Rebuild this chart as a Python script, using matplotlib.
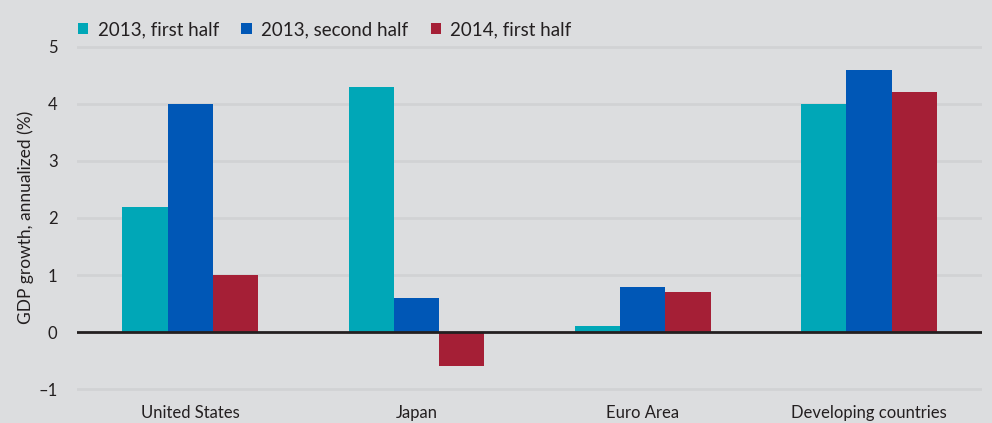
import matplotlib
matplotlib.use("Agg")
import matplotlib.pyplot as plt
import numpy as np

plt.rcParams['font.family'] = ['Lato', 'DejaVu Sans']

categories = ["United States", "Japan", "Euro Area", "Developing countries"]
series_names = ["2013, first half", "2013, second half", "2014, first half"]
h1_2013 = [2.2, 4.3, 0.1, 4.0]
h2_2013 = [4.0, 0.6, 0.8, 4.6]
h1_2014 = [1.0, -0.6, 0.7, 4.2]
yticks = [-1, 0, 1, 2, 3, 4, 5]
ytick_labels = ["\u20131", "0", "1", "2", "3", "4", "5"]
colors = ["#00a7b7", "#0057b6", "#a51f36"]
bg = "#dcdddf"
grid_c = "#d1d2d4"

fig = plt.figure(figsize=(9.92, 4.23), dpi=100, facecolor=bg)
ax = fig.add_axes([77/992, 1-395/423, (982-77)/992, (395-41)/423])
ax.set_facecolor(bg)

x = np.arange(len(categories))
w = 0.2
for i, (vals, name, c) in enumerate(zip([h1_2013, h2_2013, h1_2014], series_names, colors)):
    ax.bar(x + (i-1)*w, vals, width=w, color=c, label=name, zorder=3, linewidth=0)

ax.set_xlim(-0.5, 3.5)
ax.set_ylim(-1.1, 5.1)
ax.set_yticks(yticks)
ax.set_yticklabels(ytick_labels)
ax.set_xticks(x)
ax.set_xticklabels(categories)
for t in yticks:
    if t == 0:
        ax.axhline(0, color="#231f20", lw=2, zorder=4)
    else:
        ax.axhline(t, color=grid_c, lw=2, zorder=1)
for s in ax.spines.values():
    s.set_visible(False)
ax.tick_params(axis='both', length=0, labelsize=12, colors="#231f20")
ax.tick_params(axis='y', pad=14)
ax.tick_params(axis='x', pad=7)
fig.text(26/992, 1-217/423, "GDP growth, annualized (%)", rotation=90, ha='center', va='center',
         fontsize=12.5, color="#231f20")

leg = ax.legend(loc='lower left', bbox_to_anchor=(78/992, 1-38/423), bbox_transform=fig.transFigure,
                ncol=3, frameon=False, fontsize=13.5, handlelength=0.55, handleheight=0.55,
                handletextpad=0.5, columnspacing=1.2, borderaxespad=0, borderpad=0)
for t in leg.get_texts():
    t.set_color("#231f20")

fig.savefig("out.png", dpi=100, facecolor=bg)
